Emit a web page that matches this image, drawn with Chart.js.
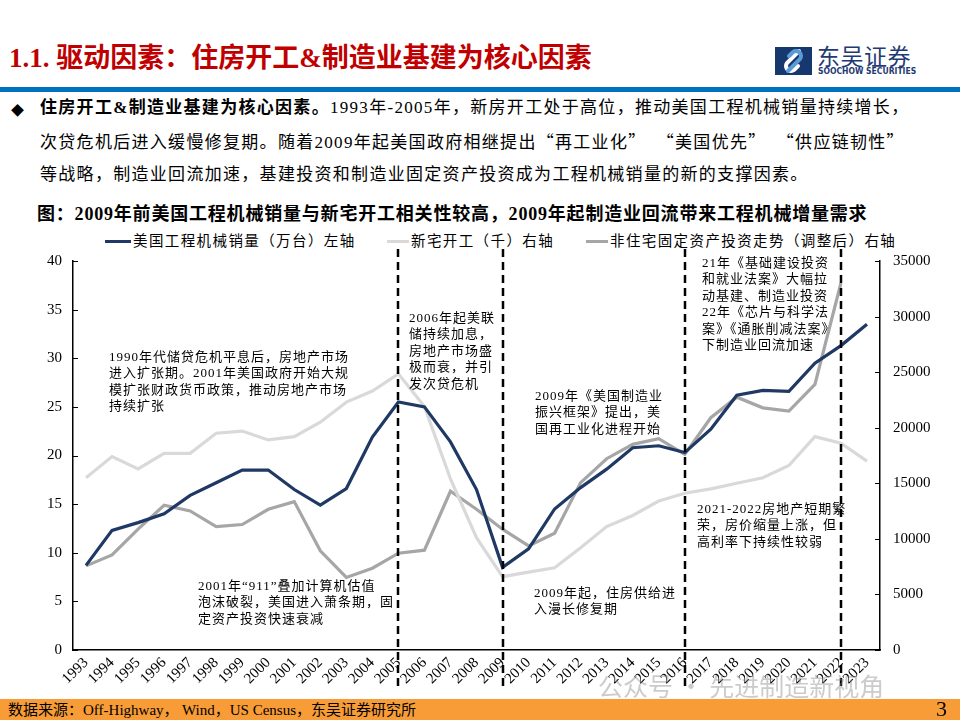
<!DOCTYPE html>
<html>
<head>
<meta charset="utf-8">
<script src="https://cdn.jsdelivr.net/npm/chart.js@4"></script>
<style>
  body { margin: 0; background: #fff; font-family: "Liberation Serif", "Noto Sans CJK SC", serif; color: #000; }
  #page { position: relative; width: 960px; height: 720px; overflow: hidden; background: #fff; }
  .abs { position: absolute; white-space: nowrap; }
  .cjk { font-family: "Noto Sans CJK SC", sans-serif; }
  #head { left: 9px; top: 41px; font-size: 27px; line-height: 34px; font-weight: bold; color: #C00000; }
  #rule { left: 0; top: 87px; width: 960px; height: 5px; background: #0070C0; }
  #bullet { left: 40px; top: 92px; font-size: 17px; line-height: 32.5px; letter-spacing: 1.3px; }
  #diamond { left: 11px; top: 100px; font-size: 13px; }
  #ftitle { left: 37px; top: 201px; font-size: 18px; line-height: 26px; font-weight: bold; letter-spacing: 0.8px; }
  .leg { top: 232px; font-size: 14.5px; line-height: 18px; letter-spacing: 1.4px; }
  .legline { position: absolute; height: 3px; top: 240px; }
  .note { font-size: 13px; line-height: 16.4px; letter-spacing: 1px; z-index: 2; }
  #chartBox { position: absolute; left: 0; top: 235px; width: 960px; height: 465px; }
  #foot { left: 0; top: 699px; width: 960px; height: 21px; background: #F89C37; }
  #src { left: 8px; top: 700px; font-size: 15px; line-height: 20px; }
  #pno { left: 936px; top: 696px; font-size: 22px; line-height: 26px; }
  #wm { left: 598px; top: 668px; font-size: 25px; line-height: 34px; color: rgba(140,140,140,0.45); font-family: "Noto Sans CJK SC", sans-serif; z-index: 3; }
</style>
</head>
<body>
<div id="page">
  <div id="head" class="abs">1.1. 驱动因素：住房开工&amp;制造业基建为核心因素</div>
  <div class="abs" style="left:775px;top:47px;">
    <svg width="37" height="28" viewBox="0 0 37 28">
      <rect width="37" height="28" fill="#17386F"/>
      <path d="M24 4 L12 16 a5 5 0 0 0 7 7 l4 -4" stroke="#fff" stroke-width="4" fill="none" stroke-linecap="round"/>
      <path d="M13 24 L25 12 a5 5 0 0 0 -7 -7 l-4 4" stroke="#5B9BD5" stroke-width="4" fill="none" stroke-linecap="round"/>
    </svg>
  </div>
  <div class="abs cjk" style="left:817px;top:40px;font-size:23px;line-height:30px;color:#1F3B73;letter-spacing:0.5px;">东吴证券</div>
  <div class="abs" style="left:818px;top:66px;font-size:8.5px;line-height:10px;font-weight:bold;color:#1F3B73;font-family:'DejaVu Sans Condensed','DejaVu Sans',sans-serif;">SOOCHOW SECURITIES</div>
  <div id="rule" class="abs"></div>

  <div id="diamond" class="abs">◆</div>
  <div id="bullet" class="abs"><b>住房开工&amp;制造业基建为核心因素。</b>1993年-2005年，新房开工处于高位，推动美国工程机械销量持续增长，<br>次贷危机后进入缓慢修复期。随着2009年起美国政府相继提出<span class="cjk">“</span>再工业化<span class="cjk">”&nbsp;&nbsp;“</span>美国优先<span class="cjk">”&nbsp;&nbsp;“</span>供应链韧性<span class="cjk">”</span><br>等战略，制造业回流加速，基建投资和制造业固定资产投资成为工程机械销量的新的支撑因素。</div>

  <div id="ftitle" class="abs">图：2009年前美国工程机械销量与新宅开工相关性较高，2009年起制造业回流带来工程机械增量需求</div>

  <div class="legline" style="left:105px;width:26px;background:#1F3864;"></div>
  <div class="abs leg" style="left:133px;">美国工程机械销量（万台）左轴</div>
  <div class="legline" style="left:387px;width:22px;background:#D9D9D9;"></div>
  <div class="abs leg" style="left:411px;">新宅开工（千）右轴</div>
  <div class="legline" style="left:586px;width:22px;background:#A6A6A6;"></div>
  <div class="abs leg" style="left:610px;">非住宅固定资产投资走势（调整后）右轴</div>

  <div id="chartBox"><canvas id="chart" width="960" height="465"></canvas></div>

  <div class="abs note" style="left:109px;top:349px;">1990年代储贷危机平息后，房地产市场<br>进入扩张期。2001年美国政府开始大规<br>模扩张财政货币政策，推动房地产市场<br>持续扩张</div>
  <div class="abs note" style="left:409px;top:310px;">2006年起美联<br>储持续加息，<br>房地产市场盛<br>极而衰，并引<br>发次贷危机</div>
  <div class="abs note" style="left:198px;top:578px;">2001年“911”叠加计算机估值<br>泡沫破裂，美国进入萧条期，固<br>定资产投资快速衰减</div>
  <div class="abs note" style="left:535px;top:388px;">2009年《美国制造业<br>振兴框架》提出，美<br>国再工业化进程开始</div>
  <div class="abs note" style="left:702px;top:255px;">21年《基础建设投资<br>和就业法案》大幅拉<br>动基建、制造业投资<br>22年《芯片与科学法<br>案》《通胀削减法案》<br>下制造业回流加速</div>
  <div class="abs note" style="left:697px;top:501px;">2021-2022房地产短期繁<br>荣，房价缩量上涨，但<br>高利率下持续性较弱</div>
  <div class="abs note" style="left:534px;top:585px;">2009年起，住房供给进<br>入漫长修复期</div>

  <div id="foot" class="abs"></div>
  <div id="src" class="abs">数据来源：Off-Highway， Wind，US Census，东吴证券研究所</div>
  <div id="pno" class="abs">3</div>
  <div id="wm" class="abs">公众号 · 先进制造新视角</div>
</div>

<script>
// ---- data ----
const years = ['1993','1994','1995','1996','1997','1998','1999','2000','2001','2002',
               '2003','2004','2005','2006','2007','2008','2009','2010','2011','2012',
               '2013','2014','2015','2016','2017','2018','2019','2020','2021','2022','2023'];

// 美国工程机械销量（万台）左轴
const machinerySales = [8.7, 12.3, 13.1, 14.0, 15.9, 17.2, 18.5, 18.5, 16.5, 14.9,
                        16.6, 21.9, 25.5, 25.0, 21.4, 16.5, 8.5, 10.4, 14.5, 16.7,
                        18.6, 20.8, 21.0, 20.3, 22.7, 26.2, 26.7, 26.6, 29.5, 31.3, 33.5];

// 新宅开工（千）右轴
const housingStarts = [15500, 17400, 16300, 17700, 17700, 19500, 19700, 18900, 19200, 20500,
                       22300, 23300, 24850, 21900, 15400, 10100, 6600, 7000, 7400, 9200,
                       11100, 12100, 13400, 14100, 14500, 15000, 15500, 16600, 19200, 18600, 17000];

// 非住宅固定资产投资走势（调整后）右轴
const nonresInvest = [7570, 8560, 10870, 13020, 12510, 11110, 11290, 12660, 13350, 8920,
                      6530, 7360, 8710, 8980, 14280, 12660, 10870, 9370, 10510, 15060,
                      17210, 18500, 19010, 17600, 20900, 22750, 21790, 21490, 23890, 33020, null];

const dividerYears = ['2005', '2009', '2016', '2022'];

const leftMax = 40, leftStep = 5;
const rightMax = 35000, rightStep = 5000;

// dashed period separators
const dividers = {
    id: 'dividers',
    afterDraw(chart) {
        const { ctx, chartArea, scales } = chart;
        ctx.save();
        ctx.strokeStyle = '#000';
        ctx.lineWidth = 2.5;
        ctx.setLineDash([8, 5]);
        dividerYears.forEach(y => {
            const px = Math.round(scales.x.getPixelForValue(years.indexOf(y)));
            ctx.beginPath();
            ctx.moveTo(px, chartArea.top - 12);
            ctx.lineTo(px, chartArea.bottom + 38);
            ctx.stroke();
        });
        ctx.restore();
    }
};

// small tick marks pointing into the plot
const innerTicks = {
    id: 'innerTicks',
    afterDraw(chart) {
        const ctx = chart.ctx;
        ctx.save();
        ctx.strokeStyle = '#000';
        ctx.lineWidth = 1;
        [['y', 1], ['y1', -1]].forEach(([id, dir]) => {
            const s = chart.scales[id];
            const edge = dir > 0 ? s.right : s.left;
            s.ticks.forEach(t => {
                const py = Math.round(s.getPixelForValue(t.value)) + 0.5;
                ctx.beginPath();
                ctx.moveTo(edge, py);
                ctx.lineTo(edge + dir * 5, py);
                ctx.stroke();
            });
        });
        ctx.restore();
    }
};

const tickFont = { family: '"Liberation Serif", serif', size: 15 };
const axisBorder = { display: true, color: '#000', width: 1.5 };
const noGrid = { display: true, drawOnChartArea: false, drawTicks: false };

new Chart(document.getElementById('chart'), {
    type: 'line',
    data: {
        labels: years,
        datasets: [
            { label: '美国工程机械销量（万台）左轴', data: machinerySales, yAxisID: 'y',
              borderColor: '#1F3864', borderWidth: 3.2 },
            { label: '新宅开工（千）右轴', data: housingStarts, yAxisID: 'y1',
              borderColor: '#D9D9D9', borderWidth: 3.2 },
            { label: '非住宅固定资产投资走势（调整后）右轴', data: nonresInvest, yAxisID: 'y1',
              borderColor: '#A6A6A6', borderWidth: 3.2 }
        ]
    },
    options: {
        responsive: false,
        animation: false,
        layout: { padding: { top: 26, left: 0, right: 0, bottom: 0 } },
        elements: { point: { radius: 0 }, line: { tension: 0 } },
        plugins: { legend: { display: false }, tooltip: { enabled: false } },
        scales: {
            x: {
                offset: true,
                grid: noGrid,
                border: axisBorder,
                ticks: { color: '#000', font: { family: '"Liberation Serif", serif', size: 15 },
                         autoSkip: false, minRotation: 45, maxRotation: 45, padding: 4 },
                afterFit: s => { s.height = 50; }
            },
            y: {
                position: 'left',
                min: 0, max: leftMax,
                grid: noGrid,
                border: axisBorder,
                ticks: { stepSize: leftStep, color: '#000', font: tickFont, padding: 11 },
                afterFit: s => { s.width = 73; }
            },
            y1: {
                position: 'right',
                min: 0, max: rightMax,
                grid: noGrid,
                border: axisBorder,
                ticks: { stepSize: rightStep, color: '#000', font: tickFont, padding: 13,
                         callback: v => String(v) },
                afterFit: s => { s.width = 80; }
            }
        }
    },
    plugins: [dividers, innerTicks]
});
</script>
</body>
</html>
